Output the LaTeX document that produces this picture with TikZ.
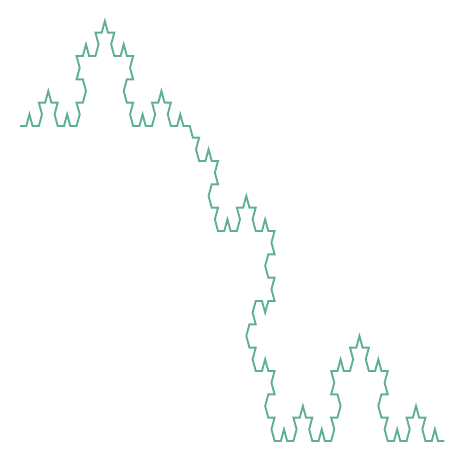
\documentclass[tikz,border=0pt]{standalone}
\definecolor{kochgreen}{RGB}{95,175,150}
\def\kpath{}
\newcommand\kochK[2]{%
  \ifnum\numexpr#1\relax=0
    \xdef\kpath{\kpath -- ++(\the\numexpr#2\relax:1)}%
  \else
    \kochK{#1-1}{#2}%
    \kochK{#1-1}{#2+60}%
    \kochK{#1-1}{#2-60}%
    \kochK{#1-1}{#2}%
  \fi}
\kochK{3}{0}
\kochK{3}{-60}
\kochK{3}{0}
\begin{document}
\begin{tikzpicture}[x=6.286pt,y=13.47pt,
  curve/.style={draw=kochgreen,line width=1.9pt,line join=miter}]
\useasboundingbox (0pt,0pt) rectangle (465pt,462pt);
\coordinate (start) at (20pt,336pt);
\path[curve] (start) \kpath;
\end{tikzpicture}
\end{document}
